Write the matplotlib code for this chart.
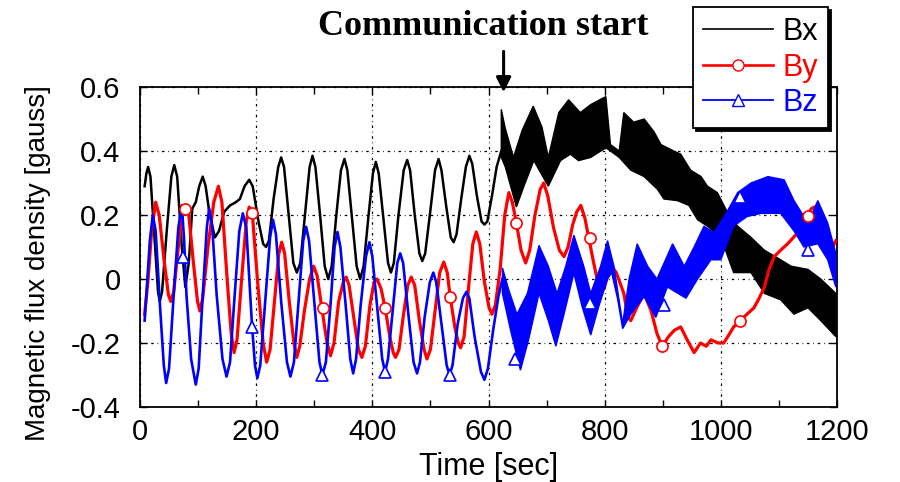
import numpy as np
import matplotlib
matplotlib.use("Agg")
import matplotlib.pyplot as plt
from matplotlib.ticker import MultipleLocator, FixedLocator, FixedFormatter

plt.rcParams['font.family'] = ['Liberation Sans', 'DejaVu Sans']
plt.rcParams['axes.unicode_minus'] = False

# ---------------- data ----------------
# Bx before communication start (smooth oscillation)
bx_t = [8, 11, 14, 18, 26, 31, 34, 38, 46, 54, 59, 64, 72, 78, 84, 90, 96, 102, 108, 113,
        120, 129, 136, 145, 155, 165, 172, 180, 188, 194, 204, 212, 217, 222, 230, 238, 243,
        248, 256, 264, 270, 276, 284, 292, 297, 302, 310, 318, 324, 330, 338, 346, 352, 357,
        365, 373, 379, 385, 393, 401, 406, 411, 419, 427, 432, 437, 445, 454, 460, 465, 473,
        481, 486, 491, 499, 508, 514, 519, 527, 535, 540, 545, 553, 561, 567, 572, 580, 588,
        593, 598, 606, 614, 622]
bx_v = [0.29, 0.33, 0.35, 0.32, 0.10, -0.04, -0.07, -0.04, 0.15, 0.32, 0.356, 0.32, 0.10,
        -0.025, 0.05, 0.22, 0.24, 0.29, 0.32, 0.29, 0.20, 0.13, 0.15, 0.21, 0.23, 0.24, 0.25,
        0.29, 0.31, 0.29, 0.18, 0.11, 0.10, 0.12, 0.25, 0.35, 0.38, 0.35, 0.20, 0.05, 0.02,
        0.05, 0.20, 0.35, 0.385, 0.35, 0.20, 0.04, 0.0, 0.04, 0.20, 0.34, 0.375, 0.34, 0.19,
        0.04, 0.0, 0.04, 0.19, 0.33, 0.366, 0.33, 0.19, 0.05, 0.02, 0.05, 0.20, 0.34, 0.372,
        0.34, 0.20, 0.08, 0.056, 0.08, 0.20, 0.34, 0.375, 0.34, 0.23, 0.13, 0.115, 0.14, 0.25,
        0.35, 0.385, 0.36, 0.26, 0.18, 0.17, 0.18, 0.26, 0.35, 0.40]
# Bx after communication start: envelope of the dense oscillation
bx_up_t = [622, 629, 643, 658, 677, 692, 703, 721, 738, 758, 776, 802, 810, 825, 833, 850,
           868, 885, 897, 919, 931, 948, 966, 977, 994, 1011, 1029, 1052, 1075, 1103, 1121,
           1150, 1172, 1198]
bx_up = [0.53, 0.47, 0.38, 0.465, 0.54, 0.475, 0.38, 0.52, 0.56, 0.52, 0.545, 0.57, 0.42,
         0.40, 0.52, 0.49, 0.50, 0.46, 0.42, 0.40, 0.39, 0.34, 0.32, 0.29, 0.27, 0.21, 0.165,
         0.13, 0.09, 0.06, 0.04, 0.03, 0.0, -0.045]
bx_lo_t = [622, 629, 648, 661, 678, 703, 724, 741, 755, 776, 802, 810, 825, 845, 868, 891,
           902, 925, 945, 960, 977, 1000, 1014, 1022, 1052, 1075, 1103, 1126, 1150, 1172, 1198]
bx_lo = [0.38, 0.35, 0.225, 0.29, 0.37, 0.29, 0.37, 0.39, 0.37, 0.38, 0.41, 0.40, 0.38, 0.34,
         0.32, 0.28, 0.25, 0.245, 0.23, 0.185, 0.165, 0.13, 0.06, 0.02, 0.02, -0.045, -0.065,
         -0.11, -0.09, -0.13, -0.18]

# By
by_t = [8, 14, 20, 27, 33, 42, 49, 53, 58, 66, 73, 78, 84, 92, 99, 103, 108, 117, 127, 135,
        141, 150, 157, 162, 167, 175, 183, 188, 194, 203, 212, 218, 224, 232, 239, 244, 249,
        257, 265, 270, 275, 283, 292, 299, 305, 313, 322, 328, 334, 342, 350, 355, 360, 368,
        376, 382, 388, 396, 403, 408, 415, 422, 430, 436, 440, 446, 453, 461, 467, 473, 481,
        489, 494, 500, 508, 516, 523, 529, 534, 542, 548, 552, 558, 566, 573, 579, 585, 593,
        601, 606, 612, 620, 628, 635, 641, 648, 656, 664, 671, 680, 689, 695, 702, 712, 722,
        730, 737, 745, 752, 759, 766, 773, 780, 787, 799, 810, 820, 833, 840, 845, 855, 868,
        880, 890, 899, 910, 920, 931, 942, 954, 965, 975, 983, 995, 1005, 1012, 1022, 1033,
        1045, 1057, 1066, 1075, 1083, 1092, 1103, 1115, 1125, 1133, 1142, 1150, 1156, 1161,
        1167, 1172, 1180, 1190, 1198]
by_v = [-0.11, 0.0, 0.15, 0.24, 0.20, 0.05, -0.05, -0.07, -0.04, 0.10, 0.20, 0.23, 0.20,
        0.05, -0.07, -0.10, -0.06, 0.10, 0.24, 0.29, 0.24, 0.0, -0.17, -0.23, -0.19, 0.0,
        0.18, 0.225, 0.19, -0.02, -0.20, -0.26, -0.22, -0.06, 0.08, 0.115, 0.08, -0.07, -0.20,
        -0.245, -0.21, -0.10, 0.0, 0.04, 0.01, -0.09, -0.20, -0.24, -0.20, -0.07, -0.01, 0.006,
        -0.02, -0.12, -0.22, -0.245, -0.21, -0.08, -0.01, 0.0, -0.03, -0.09, -0.18, -0.23,
        -0.245, -0.22, -0.12, -0.02, 0.006, -0.02, -0.13, -0.22, -0.25, -0.22, -0.10, 0.02,
        0.053, 0.02, -0.055, -0.15, -0.20, -0.215, -0.18, -0.02, 0.11, 0.147, 0.11, -0.01,
        -0.09, -0.11, -0.08, 0.03, 0.20, 0.27, 0.24, 0.175, 0.09, 0.05, 0.09, 0.20, 0.28, 0.30,
        0.26, 0.16, 0.09, 0.07, 0.10, 0.17, 0.21, 0.23, 0.19, 0.125, 0.06, 0.0, -0.03, 0.045,
        0.02, -0.045, -0.12, -0.13, -0.09, -0.045, -0.10, -0.17, -0.21, -0.18, -0.16, -0.15,
        -0.19, -0.23, -0.20, -0.21, -0.19, -0.20, -0.20, -0.18, -0.15, -0.13, -0.11, -0.09,
        -0.06, -0.025, 0.03, 0.07, 0.09, 0.11, 0.13, 0.145, 0.18, 0.205, 0.22, 0.225, 0.19,
        0.165, 0.13, 0.09, 0.12]
by_mk_t = [78, 193, 315, 422, 534, 648, 774, 899, 1033, 1150]
by_mk_v = [0.22, 0.205, -0.09, -0.09, -0.055, 0.175, 0.128, -0.21, -0.13, 0.197]

# Bz before communication start
bz_t = [8, 12, 17, 22, 27, 35, 41, 45, 50, 58, 66, 72, 76, 80, 88, 96, 101, 108, 115, 119,
        124, 132, 142, 149, 155, 163, 171, 177, 183, 193, 198, 202, 207, 216, 224, 229, 234,
        243, 253, 259, 265, 273, 281, 286, 291, 300, 309, 314, 320, 328, 335, 340, 345, 354,
        362, 367, 372, 380, 389, 395, 400, 409, 417, 422, 427, 435, 443, 448, 453, 462, 471,
        477, 482, 490, 499, 505, 510, 519, 528, 533, 538, 547, 556, 562, 567, 576, 587, 593,
        599, 608, 617, 624]
bz_v = [-0.13, -0.02, 0.12, 0.20, 0.15, -0.10, -0.27, -0.325, -0.28, -0.05, 0.16, 0.23,
        0.12, -0.05, -0.25, -0.33, -0.28, -0.05, 0.16, 0.22, 0.17, -0.05, -0.25, -0.305,
        -0.26, -0.05, 0.15, 0.205, 0.16, -0.15, -0.27, -0.31, -0.27, -0.06, 0.13, 0.185, 0.14,
        -0.07, -0.26, -0.305, -0.26, -0.07, 0.12, 0.163, 0.12, -0.07, -0.26, -0.30, -0.26,
        -0.08, 0.10, 0.147, 0.10, -0.08, -0.25, -0.295, -0.25, -0.08, 0.07, 0.115, 0.07, -0.10,
        -0.25, -0.29, -0.25, -0.10, 0.05, 0.08, 0.05, -0.11, -0.26, -0.295, -0.26, -0.12,
        -0.01, 0.02, -0.01, -0.14, -0.27, -0.30, -0.27, -0.14, -0.06, -0.04, -0.06, -0.18,
        -0.29, -0.315, -0.28, -0.16, -0.055, 0.0]
# Bz after communication start: envelope of the dense oscillation
bz_up_t = [624, 635, 649, 667, 687, 703, 718, 733, 747, 764, 776, 793, 805, 816, 831, 842,
           856, 874, 890, 917, 937, 954, 971, 988, 1009, 1029, 1052, 1081, 1109, 1126, 1150,
           1167, 1184, 1198]
bz_up = [0.035, -0.035, -0.11, -0.045, 0.105, 0.04, -0.045, 0.04, 0.137, 0.04, -0.045, 0.04,
         0.12, 0.04, -0.14, 0.0, 0.11, 0.04, 0.0, 0.11, 0.04, 0.10, 0.165, 0.145, 0.205, 0.27,
         0.30, 0.32, 0.31, 0.245, 0.175, 0.245, 0.175, 0.08]
bz_lo_t = [624, 638, 655, 669, 687, 703, 716, 730, 747, 761, 776, 790, 805, 812, 822, 831,
           845, 868, 888, 908, 940, 960, 983, 1000, 1022, 1045, 1069, 1103, 1126, 1143, 1167,
           1184, 1198]
bz_lo = [-0.045, -0.16, -0.285, -0.19, -0.045, -0.13, -0.21, -0.11, 0.018, -0.085, -0.175,
         -0.085, 0.0, 0.02, -0.06, -0.155, -0.11, -0.055, -0.12, -0.025, -0.06, 0.0, 0.06,
         0.06, 0.165, 0.195, 0.205, 0.205, 0.15, 0.10, 0.11, 0.06, -0.025]
bz_mk_t = [74, 193, 314, 422, 534, 645, 774, 902, 1033, 1150]
bz_mk_v = [0.07, -0.15, -0.30, -0.29, -0.30, -0.25, -0.075, -0.08, 0.255, 0.09]

x_ticks = [0, 200, 400, 600, 800, 1000, 1200]
y_ticks = [-0.4, -0.2, 0, 0.2, 0.4, 0.6]
y_tick_labels = ['-0.4', '-0.2', '0', '0.2', '0.4', '0.6']
comm_start = 626

RED = '#ff0000'
BLUE = '#0000ff'

# ---------------- figure ----------------
fig = plt.figure(figsize=(9.0, 4.82), dpi=100)
ax = fig.add_axes([140 / 900, 75 / 482, 697 / 900, 320 / 482])

# Bx
ax.plot(bx_t, bx_v, color='k', lw=1.8, zorder=3)
ax.fill(np.concatenate([bx_up_t, bx_lo_t[::-1]]),
        np.concatenate([bx_up, bx_lo[::-1]]),
        facecolor='k', edgecolor='k', lw=1.0, zorder=3)
# By
ax.plot(by_t, by_v, color=RED, lw=2.3, zorder=4)
# Bz
ax.plot(bz_t, bz_v, color=BLUE, lw=1.9, zorder=5)
ax.fill(np.concatenate([bz_up_t, bz_lo_t[::-1]]),
        np.concatenate([bz_up, bz_lo[::-1]]),
        facecolor=BLUE, edgecolor=BLUE, lw=1.0, zorder=5)
# markers
ax.plot(by_mk_t, by_mk_v, ls='none', marker='o', ms=8, mfc='white', mec=RED, mew=1.2, zorder=6)
ax.plot(bz_mk_t, bz_mk_v, ls='none', marker='^', ms=8, mfc='white', mec=BLUE, mew=1.2, zorder=6)

# legend handles (proxy lines)
hx, = ax.plot([], [], color='k', lw=1.2, label='Bx')
hy, = ax.plot([], [], color=RED, lw=1.9, marker='o', ms=8, mfc='white', mec=RED, label='By')
hz, = ax.plot([], [], color=BLUE, lw=1.3, marker='^', ms=8, mfc='white', mec=BLUE, label='Bz')

ax.set_xlim(0, 1200)
ax.set_ylim(-0.4, 0.6)
ax.xaxis.set_major_locator(FixedLocator(x_ticks))
ax.xaxis.set_minor_locator(MultipleLocator(100))
ax.yaxis.set_major_locator(FixedLocator(y_ticks))
ax.yaxis.set_major_formatter(FixedFormatter(y_tick_labels))
ax.tick_params(which='both', direction='in', top=True, right=True, length=5, width=1,
               labelsize=21)
ax.tick_params(axis='y', pad=14)
ax.tick_params(axis='x', pad=8)
ax.grid(True, which='major', color='k', linestyle=(0, (2, 3, 0.6, 3)), linewidth=0.9)
for s in ax.spines.values():
    s.set_linewidth(1.3)

ax.set_xlabel('Time [sec]', fontsize=22, labelpad=4)
ax.set_ylabel('Magnetic flux density [gauss]', fontsize=20, labelpad=4)
ax.yaxis.set_label_coords(-0.128, 0.45)

# annotation
ax.annotate('', xy=(comm_start, 0.575), xytext=(comm_start, 0.72),
            arrowprops=dict(arrowstyle='-|>', color='k', lw=2.2, mutation_scale=22),
            annotation_clip=False)
ax.text(591, 0.79, 'Communication start', ha='center', va='center', fontsize=26,
        fontweight='bold', family=['Liberation Serif', 'DejaVu Serif'], clip_on=False)

leg = ax.legend(handles=[hx, hy, hz], loc='upper right',
                bbox_to_anchor=(828 / 900, 1 - 7 / 482), bbox_transform=fig.transFigure,
                fontsize=22, frameon=True, fancybox=False, edgecolor='k', framealpha=1,
                shadow={'facecolor': 'k', 'edgecolor': 'k', 'alpha': 1},
                handlelength=2.3, handletextpad=0.3, labelspacing=0.18, borderpad=0.33,
                borderaxespad=0, numpoints=1)
leg.get_frame().set_linewidth(1.3)
leg.set_zorder(10)
for txt, c in zip(leg.get_texts(), ['k', RED, BLUE]):
    txt.set_color(c)

fig.savefig('out.png', dpi=100)
